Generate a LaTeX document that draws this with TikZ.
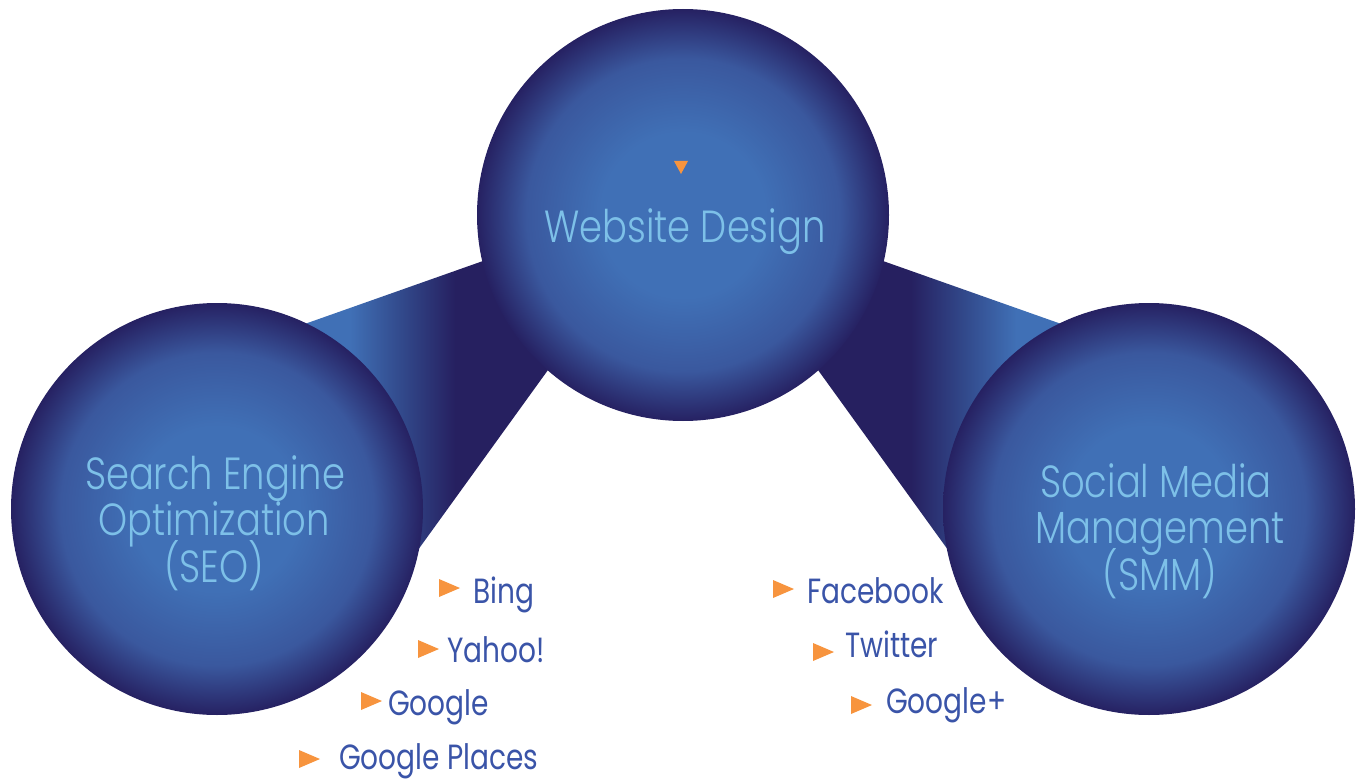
\documentclass[tikz,border=0pt]{standalone}
\usepackage{fontspec}
\setmainfont{Poppins Light}[FakeStretch=0.82]
\newfontfamily\itemfont{Poppins}[FakeStretch=0.80]
\usetikzlibrary{calc}

\definecolor{ballin}{RGB}{64,112,182}
\definecolor{ballmid}{RGB}{58,88,158}
\definecolor{ballout}{RGB}{38,33,98}
\definecolor{bandlight}{RGB}{64,112,182}
\definecolor{bandmid}{RGB}{50,74,140}
\definecolor{banddark}{RGB}{38,32,96}
\definecolor{labelblue}{RGB}{125,192,232}
\definecolor{itemblue}{RGB}{58,84,168}
\definecolor{bulletorange}{RGB}{247,148,62}

% sphere-like fill of the three circles
\pgfdeclareradialshading{ballshade}{\pgfpoint{0bp}{0bp}}{%
  color(0bp)=(ballin); color(10bp)=(ballin); color(19bp)=(ballmid);
  color(25bp)=(ballout); color(50bp)=(ballout)}
% left connector: light next to the SEO circle, dark towards the top circle
\pgfdeclarehorizontalshading{bandleft}{100bp}{%
  color(0bp)=(bandlight); color(34.7bp)=(bandlight); color(44.3bp)=(bandmid);
  color(54.8bp)=(banddark); color(100bp)=(banddark)}
% right connector: mirror image of the left one
\pgfdeclarehorizontalshading{bandright}{100bp}{%
  color(0bp)=(banddark); color(45.2bp)=(banddark); color(55.7bp)=(bandmid);
  color(65.3bp)=(bandlight); color(100bp)=(bandlight)}

\tikzset{
  ball/.style={circle, minimum size=412pt, inner sep=0pt, shading=ballshade},
  circlelabel/.style={text=labelblue, font=\fontsize{45}{46}\selectfont, inner sep=0pt, anchor=base},
  item/.style={text=itemblue, font=\itemfont\fontsize{35}{36}\selectfont, inner sep=0pt, anchor=base west},
  bullet/.pic={\fill[bulletorange] (0,0) -- (21,9) -- (0,18) -- cycle;},
}

\begin{document}
\begin{tikzpicture}[x=1pt, y=-1pt]
\useasboundingbox (0,0) rectangle (1358,781);

% corner points of the two connecting bands
\coordinate (la) at (299,326);
\coordinate (lb) at (500,255);
\coordinate (lc) at (561,352);
\coordinate (ld) at (410,561);
\coordinate (ra) at (1067,326);
\coordinate (rb) at (866,255);
\coordinate (rc) at (805,352);
\coordinate (rd) at (956,561);

\shade[shading=bandleft] (la) -- (lb) -- (lc) -- (ld) -- cycle;
\shade[shading=bandright] (ra) -- (rb) -- (rc) -- (rd) -- cycle;

% the three circles
\node[ball] (web) at (683,215) {};
\node[ball] (seo) at (217,509) {};
\node[ball] (smm) at (1149,509) {};

% small marker above the top label
\fill[bulletorange] (674,161) -- (688,161) -- (681,174) -- cycle;

\node[circlelabel] (webt) at (685,242) {Website Design};
\node[circlelabel] (seo1) at (215,489) {Search Engine};
\node[circlelabel] (seo2) at (214,535) {Optimization};
\node[circlelabel] (seo3) at (214,582) {(SEO)};
\node[circlelabel] (smm1) at (1156,497) {Social Media};
\node[circlelabel] (smm2) at (1160,543) {Management};
\node[circlelabel] (smm3) at (1160,590) {(SMM)};

% search engines
\pic at (439,579) {bullet};
\node[item] (bing) at (473,603) {Bing};
\pic at (418,640) {bullet};
\node[item] (yahoo) at (447,662) {Yahoo!};
\pic at (361,692) {bullet};
\node[item] (google) at (388,715) {Google};
\pic at (299,750) {bullet};
\node[item] (places) at (339,769) {Google Places};

% social networks
\pic at (773,580) {bullet};
\node[item] (facebook) at (807,603) {Facebook};
\pic at (813,643) {bullet};
\node[item] (twitter) at (845,657) {Twitter};
\pic at (851,696) {bullet};
\node[item] (gplus) at (886,713) {Google+};
\end{tikzpicture}
\end{document}
